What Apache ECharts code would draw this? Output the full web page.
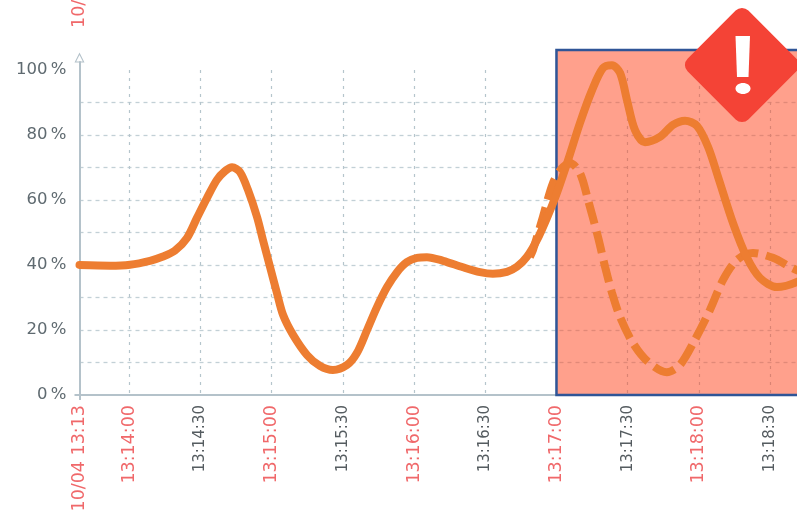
<!DOCTYPE html>
<html>
<head>
<meta charset="utf-8">
<style>html,body{margin:0;padding:0;background:#fff;overflow:hidden}#c{width:797px;height:515px}</style>
<script src="https://cdn.jsdelivr.net/npm/echarts@6/dist/echarts.min.js"></script>
</head>
<body>
<div id="c"></div>
<script>
// x values are seconds after 13:13:00
const xTickValues = [39,60,90,120,150,180,210,240,270,300,330];
const xTickLabels = ['10/04 13:13','13:14:00','13:14:30','13:15:00','13:15:30','13:16:00','13:16:30','13:17:00','13:17:30','13:18:00','13:18:30'];
const xMajor = [true,true,false,true,false,true,false,true,false,true,false];
const yGridValues = [0,10,20,30,40,50,60,70,80,90,100];
const yLabelValues = [0,20,40,60,80,100];
const solidX = [39,51.9,60.3,68.7,74.2,79.2,84.3,88.5,92.7,96.9,100.3,103.3,106.6,110,113.8,116.3,119.3,122.2,124.8,129,134.9,140.4,145.8,151.7,155.9,160.2,164.4,168.6,172.8,177,181.2,185.4,192.2,200.6,207.8,213.2,219.1,223.4,227.6,231.8,236,240.2,244.9,249.9,255,259.6,263.4,266.8,269.7,273.1,277.3,283.6,289.1,294.2,299.2,303.9,308.1,314.4,320.3,325.8,332.9,341.4,349];
const solidY = [40,39.8,40.1,41.3,42.6,44.4,48.3,54.5,60.6,66.2,68.9,70.1,68.6,63.1,54.8,47.7,39.4,31.4,24.6,18.5,12.3,8.9,7.7,9.2,12.9,20,27.1,33.2,37.8,40.9,42.2,42.4,41.3,39.3,37.8,37.3,37.9,39.5,42.6,47.7,54.5,62.2,72.3,83.7,93.8,100.6,101.5,99.1,90.8,81.5,77.8,79.4,83.1,84.4,82.8,76.3,67.1,52.9,42.2,36,33.2,34.8,38.5];
const dashedX = [228.8,230.1,234.3,238.5,242.3,245.7,249.9,253.3,257.5,260.5,263.4,266.8,272.2,278.6,286.5,292,298.3,304.7,310.2,316,322.8,331.2,339.6,349];
const dashedY = [42.5,44.6,54.8,65.2,69.8,71.4,68.3,60,48.6,39.4,31.4,24,16,10.2,7,9.2,16.9,26.2,35.4,41.5,43.7,42.2,39,36];
const alertStart = 240, xMin = 39, xMax = 350;

const pair = (a,b)=>a.map((v,i)=>[v,b[i]]);
const labelFont = 'DejaVu Sans';
const axisColor = '#b4c2ca';
const gridLeft = 79.5, gridW = 738, bottomY = 120;

const chart = echarts.init(document.getElementById('c'), null, {renderer:'canvas'});
const hiddenX = (gridIndex)=>({type:'value',gridIndex,min:xMin,max:xMax,show:false});
chart.setOption({
  animation:false,
  grid:[
    {left:gridLeft,width:gridW,top:70,bottom:bottomY,outerBoundsMode:'none'},
    {left:gridLeft,width:gridW,top:50,bottom:bottomY,outerBoundsMode:'none'},
    {left:gridLeft,width:gridW,top:62,bottom:bottomY,outerBoundsMode:'none'}
  ],
  xAxis:[
    {type:'value',gridIndex:0,min:xMin,max:xMax,
      axisLine:{show:false},
      axisTick:{show:false,customValues:xTickValues},
      splitLine:{show:true,showMinLine:false,lineStyle:{color:'#b5c5cc',type:[3,5],width:1.2}},
      axisLabel:{show:true,rotate:90,margin:10,hideOverlap:false,showMinLabel:true,customValues:xTickValues,
        fontFamily:labelFont,
        formatter:v=>{const i=xTickValues.indexOf(v);return (xMajor[i]?'{r|':'{k|')+xTickLabels[i]+'}';},
        rich:{r:{color:'#f0686a',fontSize:17.5,fontFamily:labelFont},k:{color:'#555c60',fontSize:15,fontFamily:labelFont}}}
    },
    hiddenX(1),
    {type:'value',gridIndex:2,min:xMin,max:xMax,
      axisLine:{show:true,onZero:false,lineStyle:{color:axisColor,width:2}},
      axisTick:{show:true,length:5,customValues:[39],lineStyle:{color:axisColor,width:2}},
      axisLabel:{show:false},splitLine:{show:false}}
  ],
  yAxis:[
    {type:'value',gridIndex:0,min:0,max:100,
      axisLine:{show:false},
      axisTick:{show:false,customValues:yGridValues},
      splitLine:{show:true,showMinLine:false,showMaxLine:false,lineStyle:{color:'#c2d0d6',type:[4,4],width:1.3}},
      axisLabel:{show:true,margin:13,customValues:yLabelValues,color:'#5f6a70',fontSize:16.5,fontFamily:labelFont,
        formatter:v=>v+'\u2009%'}
    },
    {type:'value',gridIndex:1,min:0,max:106.15,show:false},
    {type:'value',gridIndex:2,min:0,max:102.46,
      axisLine:{show:true,onZero:false,lineStyle:{color:axisColor,width:2},
        symbol:['none','path://M50,0 L100,100 L0,100 Z M50,24 L17,90 L83,90 Z'],symbolSize:[12,10],symbolOffset:[0,4.5]},
      axisTick:{show:true,length:5,customValues:[0],lineStyle:{color:axisColor,width:2}},
      axisLabel:{show:false},splitLine:{show:false}}
  ],
  series:[
    {type:'line',xAxisIndex:1,yAxisIndex:1,data:[],z:1,silent:true,
      markArea:{silent:true,
        itemStyle:{color:'rgba(255,65,25,0.5)',borderColor:'#2f5597',borderWidth:2.5},
        data:[[{xAxis:alertStart,yAxis:106.15},{xAxis:xMax,yAxis:0}]]}},
    {type:'line',xAxisIndex:0,yAxisIndex:0,data:pair(dashedX,dashedY),smooth:0.3,showSymbol:false,clip:false,z:3,
      lineStyle:{color:'#ed7d31',width:8,type:[22,8],cap:'butt'}},
    {type:'line',xAxisIndex:0,yAxisIndex:0,data:pair(solidX,solidY),smooth:0.3,showSymbol:false,clip:false,z:4,
      lineStyle:{color:'#ed7d31',width:8,cap:'round',join:'round'}}
  ],
  graphic:[
    {type:'text',x:79,y:28,rotation:Math.PI/2,z:20,
      style:{text:'10/04 13:13',fill:'#f0686a',font:'17.5px "'+labelFont+'"',textAlign:'left',textVerticalAlign:'middle'}},
    {type:'rect',x:742,y:65,originX:0,originY:0,rotation:Math.PI/4,z:20,
      shape:{x:-43,y:-43,width:86,height:86,r:9},style:{fill:'#f44336'}},
    {type:'polygon',z:21,shape:{points:[[735.5,36],[750,36],[748.5,77],[737,77]]},style:{fill:'#fff'}},
    {type:'ellipse',z:21,shape:{cx:743,cy:88.5,rx:7.5,ry:5.5},style:{fill:'#fff'}}
  ]
});
</script>
</body>
</html>
